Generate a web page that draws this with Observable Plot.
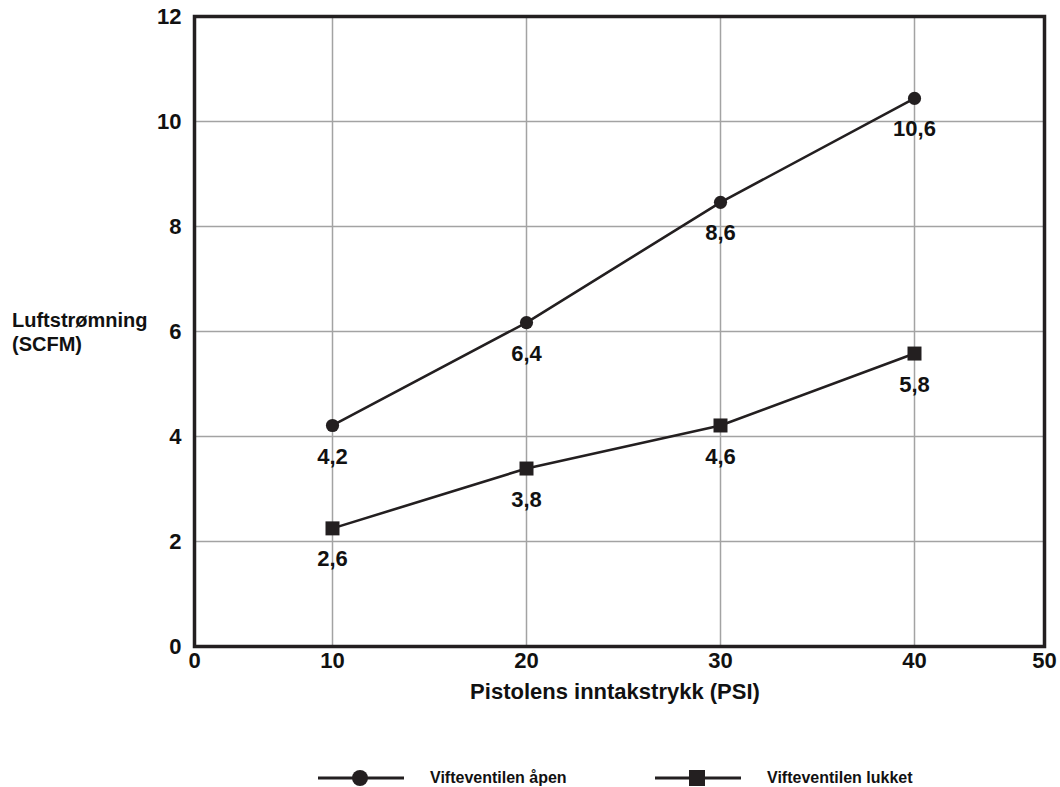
<!DOCTYPE html>
<html>
<head>
<meta charset="utf-8">
<script src="https://cdn.jsdelivr.net/npm/d3@7"></script>
<script src="https://cdn.jsdelivr.net/npm/@observablehq/plot@0.6"></script>
<style>
  html, body { margin: 0; padding: 0; background: #fff; }
  #wrap { position: relative; width: 1060px; height: 787px; font-family: "Liberation Sans", Arial, Helvetica, sans-serif; font-weight: bold; color: #111; overflow: hidden; }
  #chart { position: absolute; left: 0; top: 0; }
  #chart svg text { font-weight: bold; }
  .ytitle { position: absolute; left: 12px; top: 308px; font-size: 20px; line-height: 24px; }
  .xtitle { position: absolute; left: 0; width: 1230px; top: 679px; text-align: center; font-size: 22px; }
  .legend { position: absolute; top: 767px; left: 0; width: 1060px; height: 22px; font-size: 16px; }
  .legend .item { position: absolute; top: 0; display: flex; align-items: center; height: 22px; }
  .legend svg { margin-right: 26px; }
</style>
</head>
<body>
<div id="wrap">
  <div id="chart"></div>
  <div class="ytitle" id="ytitle"></div>
  <div class="xtitle" id="xtitle"></div>
  <div class="legend" id="legend"></div>
</div>
<script>
// ---- data ----
const xTicks = [0, 10, 20, 30, 40, 50];
const yTicks = [0, 2, 4, 6, 8, 10, 12];
const xGrid = [10, 20, 30, 40];
const yGrid = [2, 4, 6, 8, 10];
const pressure = [10, 20, 30, 40];
const openValues = [4.21, 6.17, 8.46, 10.44];
const openLabels = ["4,2", "6,4", "8,6", "10,6"];
const closedValues = [2.25, 3.39, 4.21, 5.58];
const closedLabels = ["2,6", "3,8", "4,6", "5,8"];
const seriesNames = ["Vifteventilen åpen", "Vifteventilen lukket"];
const xTitle = "Pistolens inntakstrykk (PSI)";
const yTitle = ["Luftstrømning", "(SCFM)"];

const openData = pressure.map((p, i) => ({psi: p, scfm: openValues[i], label: openLabels[i]}));
const closedData = pressure.map((p, i) => ({psi: p, scfm: closedValues[i], label: closedLabels[i]}));

const ink = "#231f20";
const gridColor = "#a3a3a3";
const font = "'Liberation Sans', Arial, Helvetica, sans-serif";

const chart = Plot.plot({
  width: 1060,
  height: 740,
  marginLeft: 194,
  marginRight: 16,
  marginTop: 16,
  marginBottom: 94,
  style: {fontFamily: font, fontSize: "22px", fontWeight: "bold", background: "#fff", overflow: "visible", color: "#111"},
  x: {type: "linear", domain: xTicks, range: [194, 332, 526, 720, 914, 1044]},
  y: {domain: [0, 12]},
  marks: [
    Plot.gridX(xGrid, {stroke: gridColor, strokeOpacity: 1, strokeWidth: 1.5}),
    Plot.gridY(yGrid, {stroke: gridColor, strokeOpacity: 1, strokeWidth: 1.5}),
    Plot.axisX(xTicks, {tickSize: 0, tickPadding: 6, tickFormat: d => String(d), fontSize: 22, fill: "#111", label: null}),
    Plot.axisY(yTicks, {tickSize: 0, tickPadding: 13, tickFormat: d => String(d), fontSize: 22, fill: "#111", label: null}),
    Plot.line(openData, {x: "psi", y: "scfm", stroke: ink, strokeWidth: 2.6}),
    Plot.line(closedData, {x: "psi", y: "scfm", stroke: ink, strokeWidth: 2.6}),
    Plot.dot(openData, {x: "psi", y: "scfm", r: 6.6, fill: ink, stroke: "none"}),
    Plot.dot(closedData, {x: "psi", y: "scfm", r: 7.9, symbol: "square", fill: ink, stroke: "none"}),
    Plot.text(openData, {x: "psi", y: "scfm", text: "label", dy: 31, fontSize: 22, fontWeight: "bold", fill: "#111"}),
    Plot.text(closedData, {x: "psi", y: "scfm", text: "label", dy: 31, fontSize: 22, fontWeight: "bold", fill: "#111"}),
    Plot.frame({stroke: ink, strokeWidth: 3.5})
  ]
});
// make sure axis tick labels use the large bold size
d3.select(chart).selectAll('g[aria-label$="tick label"]').attr("font-size", 22).attr("font-weight", "bold");
document.getElementById("chart").appendChild(chart);

document.getElementById("ytitle").innerHTML = yTitle.join("<br>");
document.getElementById("xtitle").textContent = xTitle;

// legend
const legend = document.getElementById("legend");
const items = [
  {name: seriesNames[0], left: 318, shape: "circle"},
  {name: seriesNames[1], left: 655, shape: "square"}
];
items.forEach(it => {
  const div = document.createElement("div");
  div.className = "item";
  div.style.left = it.left + "px";
  const sym = it.shape === "circle"
    ? `<circle cx="42" cy="11" r="8" fill="${ink}"/>`
    : `<rect x="34" y="3" width="16" height="16" fill="${ink}"/>`;
  div.innerHTML = `<svg width="86" height="22"><line x1="0" x2="86" y1="11" y2="11" stroke="${ink}" stroke-width="3"/>${sym}</svg><span>${it.name}</span>`;
  legend.appendChild(div);
});
</script>
</body>
</html>
